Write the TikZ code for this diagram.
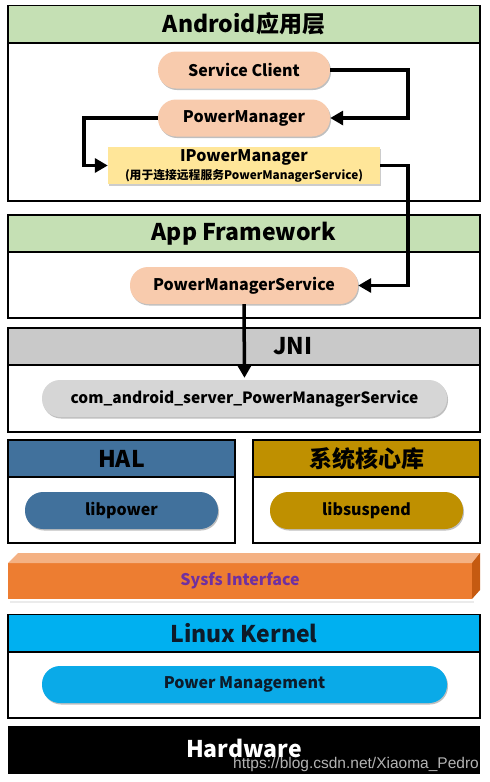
\documentclass[tikz,border=0pt]{standalone}
\usepackage{fontspec}
\setmainfont{Noto Sans CJK SC}
\newfontfamily\cjk{Noto Sans CJK SC}
\newfontfamily\wmfont{Liberation Sans}
\usetikzlibrary{shadows,arrows.meta,calc}
\definecolor{hgreen}{HTML}{C5E0B4}
\definecolor{peach}{HTML}{F8CBAD}
\definecolor{ipmy}{HTML}{FFE699}
\definecolor{jnigray}{HTML}{C9C9C9}
\definecolor{pillgray}{HTML}{D6D6D6}
\definecolor{halblue}{HTML}{41719C}
\definecolor{gold}{HTML}{BF9000}
\definecolor{sysfront}{HTML}{ED7D31}
\definecolor{systop}{HTML}{F4B183}
\definecolor{sysside}{HTML}{C55A11}
\definecolor{kblue}{HTML}{00B0F0}
\definecolor{pmblue}{HTML}{0AAAE8}
\definecolor{sysfstext}{HTML}{7030A0}
\definecolor{navy}{HTML}{0D1B2A}
\tikzset{
  hdr/.style={draw=black, line width=1.5pt, minimum width=472pt, minimum height=37pt, inner sep=0pt, font=\bfseries\fontsize{23}{25}\selectfont},
  halfhdr/.style={hdr, minimum width=227pt},
  body/.style={draw=black, line width=1.5pt, fill=white, minimum width=472pt, inner sep=0pt},
  halfbody/.style={body, minimum width=227pt},
  pill/.style={rounded corners=18pt, minimum height=37pt, inner sep=0pt,
    font=\bfseries\fontsize{16}{18}\selectfont,
    drop shadow={shadow xshift=1pt, shadow yshift=-1.5pt, opacity=0.25, fill=black}},
  arr/.style={line width=3.5pt, -{Triangle[length=13pt,width=14pt]}},
  htext/.style={inner sep=0pt, font=\bfseries\fontsize{23}{25}\selectfont},
}
\begin{document}
\begin{tikzpicture}[x=1pt,y=-1pt]
\useasboundingbox (0,0) rectangle (490,782);
% Android layer
\node[body, minimum height=158pt] (andB) at (244,122) {};
\node[hdr, fill=hgreen] (andH) at (244,24) {Android应用层};
\node[pill, fill=peach, minimum width=172pt] (sc) at (244,70) {Service Client};
\node[pill, fill=peach, minimum width=172pt] (pm) at (244,118) {PowerManager};
\node[fill=ipmy, minimum width=272pt, minimum height=37pt, inner sep=0pt,
  drop shadow={shadow xshift=1pt, shadow yshift=-1.5pt, opacity=0.2, fill=black}] (ipm) at (244,165.5) {};
\node[inner sep=0pt, font=\bfseries\fontsize{16}{18}\selectfont] (ipmT) at (244,157) {IPowerManager};
\node[inner sep=0pt, font=\bfseries\fontsize{11.8}{13}\selectfont] (ipmS) at (244,176) {(用于连接远程服务PowerManagerService)};
% App Framework
\node[body, minimum height=66pt] (afB) at (244,285) {};
\node[hdr, fill=hgreen] (afH) at (244,233.5) {App Framework};
\node[pill, fill=peach, minimum width=228pt] (pms) at (244,285.5) {PowerManagerService};
% JNI
\node[body, minimum height=67pt] (jniB) at (244,398.5) {};
\node[hdr, fill=jnigray] (jniH) at (244,346.5) {};
\node[htext] (jniT) at (293,346.5) {JNI};
\node[pill, fill=pillgray, minimum width=405pt, font=\bfseries\fontsize{15.5}{18}\selectfont] (com) at (244.5,398.5) {com\_android\_server\_PowerManagerService};
% HAL
\node[halfbody, minimum height=66pt] (halB) at (121.5,510) {};
\node[halfhdr, fill=halblue] (halH) at (121.5,458.5) {HAL};
\node[pill, fill=halblue, minimum width=193pt] (lp) at (121.5,510.5) {libpower};
% core libs
\node[halfbody, minimum height=66pt] (coreB) at (366.5,510) {};
\node[halfhdr, fill=gold] (coreH) at (366.5,458.5) {系统核心库};
\node[pill, fill=gold, minimum width=193pt] (ls) at (366.5,510.5) {libsuspend};
% Sysfs 3D bar
\fill[black, opacity=0.08] (10,601) rectangle (474,603);
\fill[sysfront] (8,563) rectangle (472,599);
\fill[systop] (8,563) -- (18,553) -- (480,553) -- (472,563) -- cycle;
\fill[sysside] (472,563) -- (480,553) -- (480,590) -- (472,599) -- cycle;
\node[inner sep=0pt, text=sysfstext, font=\bfseries\fontsize{16}{18}\selectfont] (sysfs) at (240,581) {Sysfs Interface};
% Linux Kernel
\node[body, minimum height=66pt] (lkB) at (244,685) {};
\node[hdr, fill=kblue, text=navy] (lkH) at (244,633) {Linux Kernel};
\node[pill, fill=pmblue, text=navy, minimum width=405pt] (pmg) at (244.5,684.5) {Power Management};
% Hardware
\node[fill=black, minimum width=472pt, minimum height=48pt, inner sep=0pt] (hw) at (244,750) {};
\node[htext, text=white] (hwT) at (244,748) {Hardware};
\node[anchor=base east, inner sep=0pt, text=white!78!black, opacity=0.9, font=\wmfont\fontsize{15.5}{17}\selectfont] (wm) at (479,768) {https://blog.csdn.net/Xiaoma\_Pedro};
% arrows
\draw[arr] (sc.east) -- ++(78,0) |- (pm.east);
\draw[arr] (pm.west) -- ++(-74,0) |- (ipm.west);
\draw[arr] (ipm.east) -- ++(28,0) |- (pms.east);
\draw[arr, shorten >=2pt] (pms.south) -- (com.north);
\end{tikzpicture}
\end{document}
